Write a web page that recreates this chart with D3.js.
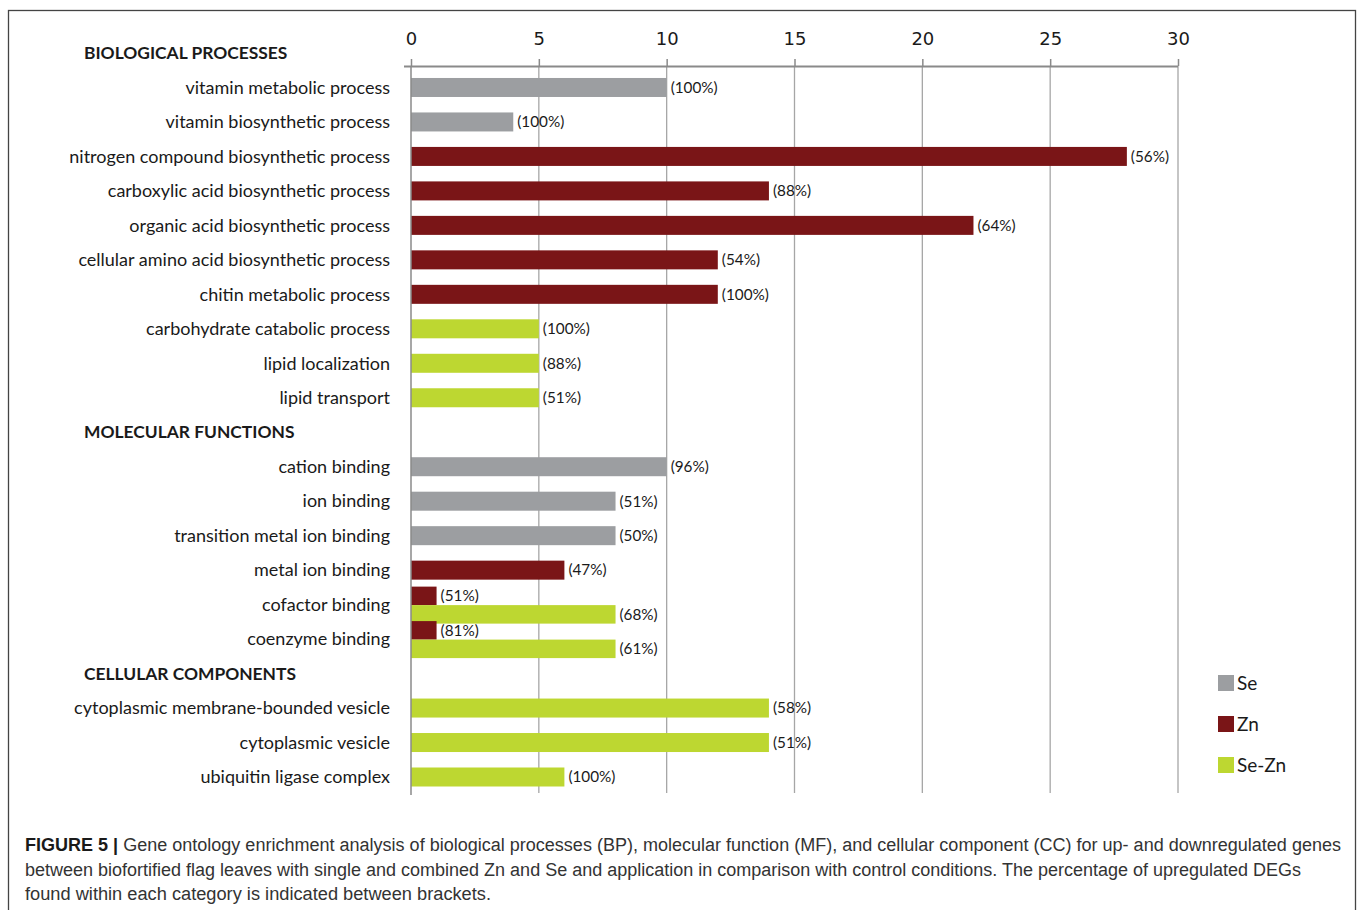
<!DOCTYPE html>
<html>
<head>
<meta charset="utf-8">
<script src="https://d3js.org/d3.v7.min.js"></script>
<style>
  body { margin: 0; background: #fff; }
  svg text { fill: #1a1a1a; }
  .term   { font: 18px Lato, "Open Sans", sans-serif; text-anchor: end; }
  .header { font: bold 17.4px Lato, "Open Sans", sans-serif; }
  .pct    { font: 15.3px Lato, "Open Sans", sans-serif; }
  .tick text { font: 18px "DejaVu Sans", sans-serif; fill: #1a1a1a; }
  .legend text { font: 19px Lato, "Open Sans", sans-serif; }
  .caption { font: 18px "Liberation Sans Narrow", "Liberation Sans", sans-serif; fill: #333; }
  .caption .lead { font-weight: bold; fill: #1a1a1a; }
</style>
</head>
<body>
<svg id="chart" width="1358" height="910"></svg>
<script>
// chart values
const sections = ["BIOLOGICAL PROCESSES", "MOLECULAR FUNCTIONS", "CELLULAR COMPONENTS"];

const terms = [
  "vitamin metabolic process", "vitamin biosynthetic process",
  "nitrogen compound biosynthetic process", "carboxylic acid biosynthetic process",
  "organic acid biosynthetic process", "cellular amino acid biosynthetic process",
  "chitin metabolic process", "carbohydrate catabolic process",
  "lipid localization", "lipid transport",
  "cation binding", "ion binding", "transition metal ion binding",
  "metal ion binding", "cofactor binding", "coenzyme binding",
  "cytoplasmic membrane-bounded vesicle", "cytoplasmic vesicle", "ubiquitin ligase complex"
];
const termSection = [0,0,0,0,0,0,0,0,0,0, 1,1,1,1,1,1, 2,2,2];

const series = ["Se", "Zn", "Se-Zn"];
const seCounts   = [10, 4, null, null, null, null, null, null, null, null, 10, 8, 8, null, null, null, null, null, null];
const sePct      = ["100%", "100%", null, null, null, null, null, null, null, null, "96%", "51%", "50%", null, null, null, null, null, null];
const znCounts   = [null, null, 28, 14, 22, 12, 12, null, null, null, null, null, null, 6, 1, 1, null, null, null];
const znPct      = [null, null, "56%", "88%", "64%", "54%", "100%", null, null, null, null, null, null, "47%", "51%", "81%", null, null, null];
const seznCounts = [null, null, null, null, null, null, null, 5, 5, 5, null, null, null, null, 8, 8, 14, 14, 6];
const seznPct    = [null, null, null, null, null, null, null, "100%", "88%", "51%", null, null, null, null, "68%", "61%", "58%", "51%", "100%"];

const xTicks = [0, 5, 10, 15, 20, 25, 30];

const colors = { "Se": "#9c9ea1", "Zn": "#7a1517", "Se-Zn": "#bdd731" };

const captionLines = [
  ["FIGURE 5 | ", "Gene ontology enrichment analysis of biological processes (BP), molecular function (MF), and cellular component (CC) for up- and downregulated genes"],
  ["", "between biofortified flag leaves with single and combined Zn and Se and application in comparison with control conditions. The percentage of upregulated DEGs"],
  ["", "found within each category is indicated between brackets."]
];
const captionWidths = [1316, 1276, 466];

// ---- layout
const svg = d3.select("#chart");

svg.append("rect")
  .attr("x", 8.5).attr("y", 10.5)
  .attr("width", 1347).attr("height", 910)
  .attr("fill", "none").attr("stroke", "#444").attr("stroke-width", 1.3);

// slots: a header row before each section, then its terms
const slots = [];
sections.forEach((s, si) => {
  slots.push({ key: "h" + si, header: s });
  terms.forEach((t, i) => { if (termSection[i] === si) slots.push({ key: "t" + i, term: t, i: i }); });
});

const y = d3.scalePoint().domain(slots.map(d => d.key)).range([53, 777]);
const x = d3.scaleLinear().domain([0, 30]).range([411, 1178]);

// bars per term
const bars = [];
terms.forEach((t, i) => {
  const row = [];
  if (seCounts[i] != null) row.push({ s: "Se", v: seCounts[i], p: sePct[i] });
  if (znCounts[i] != null) row.push({ s: "Zn", v: znCounts[i], p: znPct[i] });
  if (seznCounts[i] != null) row.push({ s: "Se-Zn", v: seznCounts[i], p: seznPct[i] });
  const band = d3.scaleBand().domain(d3.range(row.length))
    .range(row.length > 1 ? [-18, 19] : [-9.5, 9.5]).paddingInner(0);
  row.forEach((b, k) => bars.push(Object.assign(b, { i: i, y0: y("t" + i) + band(k), h: band.bandwidth() })));
});

// grid lines
svg.append("g").selectAll("line")
  .data(xTicks.filter(d => d > 0)).join("line")
  .attr("x1", d => x(d)).attr("x2", d => x(d))
  .attr("y1", 66).attr("y2", 793)
  .attr("stroke", "#a6a6a6").attr("stroke-width", 1.3);

// top axis
const axis = svg.append("g")
  .attr("transform", "translate(0,66)")
  .call(d3.axisTop(x).tickValues(xTicks).tickSize(7).tickPadding(14).tickSizeOuter(0));
axis.select(".domain").attr("d", `M${x(0) - 7},0.5H${x(30)}`).attr("stroke", "#8a8a8a").attr("stroke-width", 2);
axis.selectAll(".tick line").attr("stroke", "#8a8a8a").attr("stroke-width", 1.5);

// bars
svg.append("g").selectAll("rect")
  .data(bars).join("rect")
  .attr("x", x(0)).attr("y", d => d.y0)
  .attr("width", d => x(d.v) - x(0)).attr("height", d => d.h)
  .attr("fill", d => colors[d.s]);

// vertical axis line at 0
svg.append("line")
  .attr("x1", x(0)).attr("x2", x(0)).attr("y1", 66).attr("y2", 795)
  .attr("stroke", "#8a8a8a").attr("stroke-width", 1.5);

// value labels
svg.append("g").selectAll("text")
  .data(bars).join("text")
  .attr("class", "pct")
  .attr("x", d => x(d.v) + 4).attr("y", d => d.y0 + d.h / 2)
  .attr("dy", "0.35em")
  .text(d => "(" + d.p + ")");

// term labels and section headers
svg.append("g").selectAll("text")
  .data(slots.filter(d => d.term)).join("text")
  .attr("class", "term")
  .attr("x", 390).attr("y", d => y(d.key)).attr("dy", "0.35em")
  .text(d => d.term);

svg.append("g").selectAll("text")
  .data(slots.filter(d => d.header)).join("text")
  .attr("class", "header")
  .attr("x", 84).attr("y", d => y(d.key)).attr("dy", "0.35em")
  .text(d => d.header);

// legend
const lg = svg.append("g").attr("class", "legend")
  .selectAll("g").data(series).join("g")
  .attr("transform", (d, k) => `translate(1218,${683 + k * 41})`);
lg.append("rect").attr("x", 0).attr("y", -8).attr("width", 16).attr("height", 16).attr("fill", d => colors[d]);
lg.append("text").attr("x", 19).attr("dy", "0.35em").text(d => d);

// caption
const cap = svg.append("g").selectAll("text")
  .data(captionLines).join("text")
  .attr("class", "caption")
  .attr("x", 25).attr("y", (d, k) => 851 + k * 24.5)
  .attr("textLength", (d, k) => captionWidths[k])
  .attr("lengthAdjust", "spacingAndGlyphs");
cap.append("tspan").attr("class", "lead").text(d => d[0]);
cap.append("tspan").text(d => d[1]);
</script>
</body>
</html>
